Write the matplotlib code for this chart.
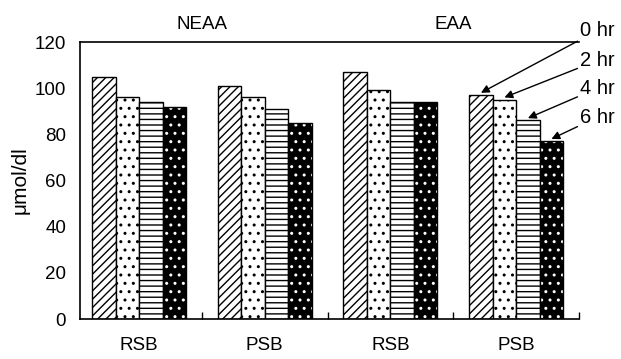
import matplotlib
matplotlib.use("Agg")
import matplotlib.pyplot as plt
import numpy as np

plt.rcParams['font.family'] = ['Liberation Sans', 'DejaVu Sans']
plt.rcParams['hatch.linewidth'] = 1.0

categories = ["RSB", "PSB", "RSB", "PSB"]
groups = ["NEAA", "EAA"]
times = ["0 hr", "2 hr", "4 hr", "6 hr"]
values = {
    "0 hr": [105, 101, 107, 97],
    "2 hr": [96, 96, 99, 95],
    "4 hr": [94, 91, 94, 86],
    "6 hr": [92, 85, 94, 77],
}
yticks = [0, 20, 40, 60, 80, 100, 120]

fig = plt.figure(figsize=(6.21, 3.59), dpi=100)
ax = fig.add_axes([0.1288, 0.1114, 0.8036, 0.7716])

x = np.arange(len(categories))
w = 0.187
offsets = [-1.5, -0.5, 0.5, 1.5]
hatches = ["////", "..", "---", None]
for i, t in enumerate(times):
    xs = x + offsets[i] * w
    if i < 3:
        ax.bar(xs, values[t], width=w, facecolor="white", edgecolor="black",
               hatch=hatches[i], linewidth=1.0, zorder=2)
    else:
        ax.bar(xs, values[t], width=w, facecolor="black", edgecolor="white",
               hatch="..", linewidth=0, zorder=2)
        ax.bar(xs, values[t], width=w, fill=False, edgecolor="black",
               linewidth=1.0, zorder=3)

ax.set_xlim(-0.47, 3.5)
ax.set_ylim(0, 120)
ax.set_yticks(yticks)
ax.tick_params(axis="y", length=0, labelsize=13.5, pad=10)
ax.set_xticks([0.5, 1.5, 2.5, 3.5])
ax.set_xticklabels([])
ax.tick_params(axis="x", direction="in", length=5, width=1)
for xi, c in zip(x, categories):
    ax.text(xi, -8, c, ha="center", va="top", fontsize=13.5)
ax.spines["right"].set_visible(False)
for s in ["left", "top", "bottom"]:
    ax.spines[s].set_linewidth(1.2)

ax.set_ylabel("μmol/dl", fontsize=15, labelpad=4)

ax.text(0.5, 124, groups[0], ha="center", va="bottom", fontsize=13.5)
ax.text(2.5, 124, groups[1], ha="center", va="bottom", fontsize=13.5)

# legend-style arrows pointing to the last group bars
label_y = [125, 112, 100, 87.5]
for i, t in enumerate(times):
    bx = 3 + offsets[i] * w
    ax.annotate(t, xy=(bx, values[t][3] + 1), xytext=(3.51, label_y[i]),
                fontsize=14.5, ha="left", va="center", annotation_clip=False,
                arrowprops=dict(arrowstyle="-|>", color="black", lw=1.0,
                                shrinkA=0, shrinkB=0, mutation_scale=12))

fig.savefig("out.png", dpi=100)
